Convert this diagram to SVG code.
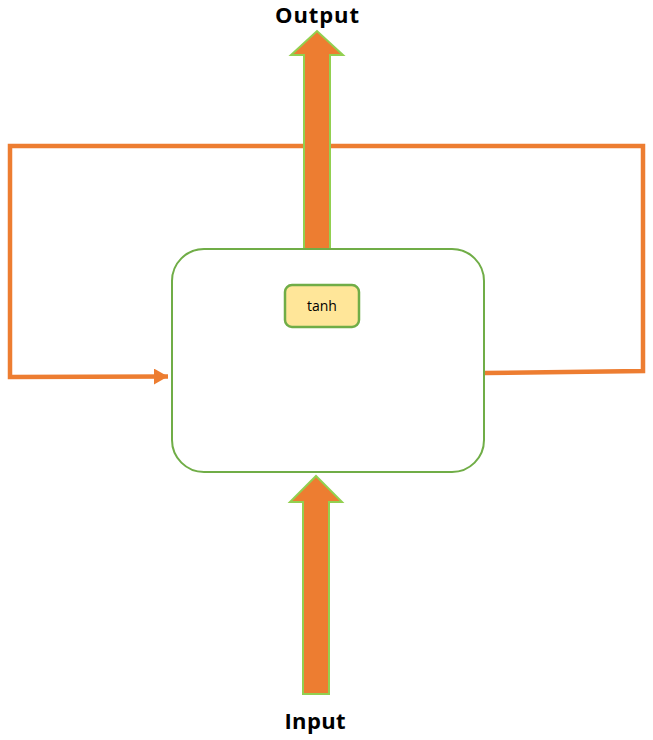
<svg xmlns="http://www.w3.org/2000/svg" width="653" height="740" viewBox="0 0 653 740">
<style>
.loop{fill:none;stroke:#ED7D31;stroke-width:4.5;stroke-linejoin:miter;stroke-linecap:butt}
.big{fill:#ED7D31;stroke:#92D050;stroke-width:2}
.lbl{font-family:"Open Sans",sans-serif;font-weight:bold;font-size:22px;fill:#000;text-anchor:middle}
</style>
<defs>
<marker id="ah" markerUnits="userSpaceOnUse" markerWidth="14" markerHeight="16" refX="14" refY="8" orient="auto">
<path d="M0,0 L14,8 L0,16 Z" fill="#ED7D31"/>
</marker>
</defs>
<rect width="653" height="740" fill="#fff"/>
<g id="connectors">
<path class="loop" d="M485,373 L643,371 L643,146 L10,146 L10,377 L168,376.5" marker-end="url(#ah)"/>
<path id="input-arrow" class="big" d="M303,694 L303,502 L290,502 L316,476 L342,502 L329,502 L329,694 Z"/>
<path id="output-arrow" class="big" d="M304,249 L304,55 L291,55 L317,31 L343,55 L330,55 L330,249 Z"/>
</g>
<g id="rnn-cell">
<rect x="172" y="249" width="312" height="223" rx="32" ry="32" fill="#fff" stroke="#70AD47" stroke-width="2"/>
</g>
<g id="tanh">
<rect x="285" y="285" width="74" height="42" rx="7" ry="7" fill="#FFE699" stroke="#70AD47" stroke-width="2.5"/>
<text x="322" y="311" font-family="'Open Sans',sans-serif" font-size="14" text-anchor="middle" fill="#000">tanh</text>
</g>
<g id="output-label"><text class="lbl" x="317" y="22.5" textLength="84" lengthAdjust="spacing">Output</text></g>
<g id="input-label"><text class="lbl" x="315" y="729" textLength="61" lengthAdjust="spacing">Input</text></g>
</svg>
